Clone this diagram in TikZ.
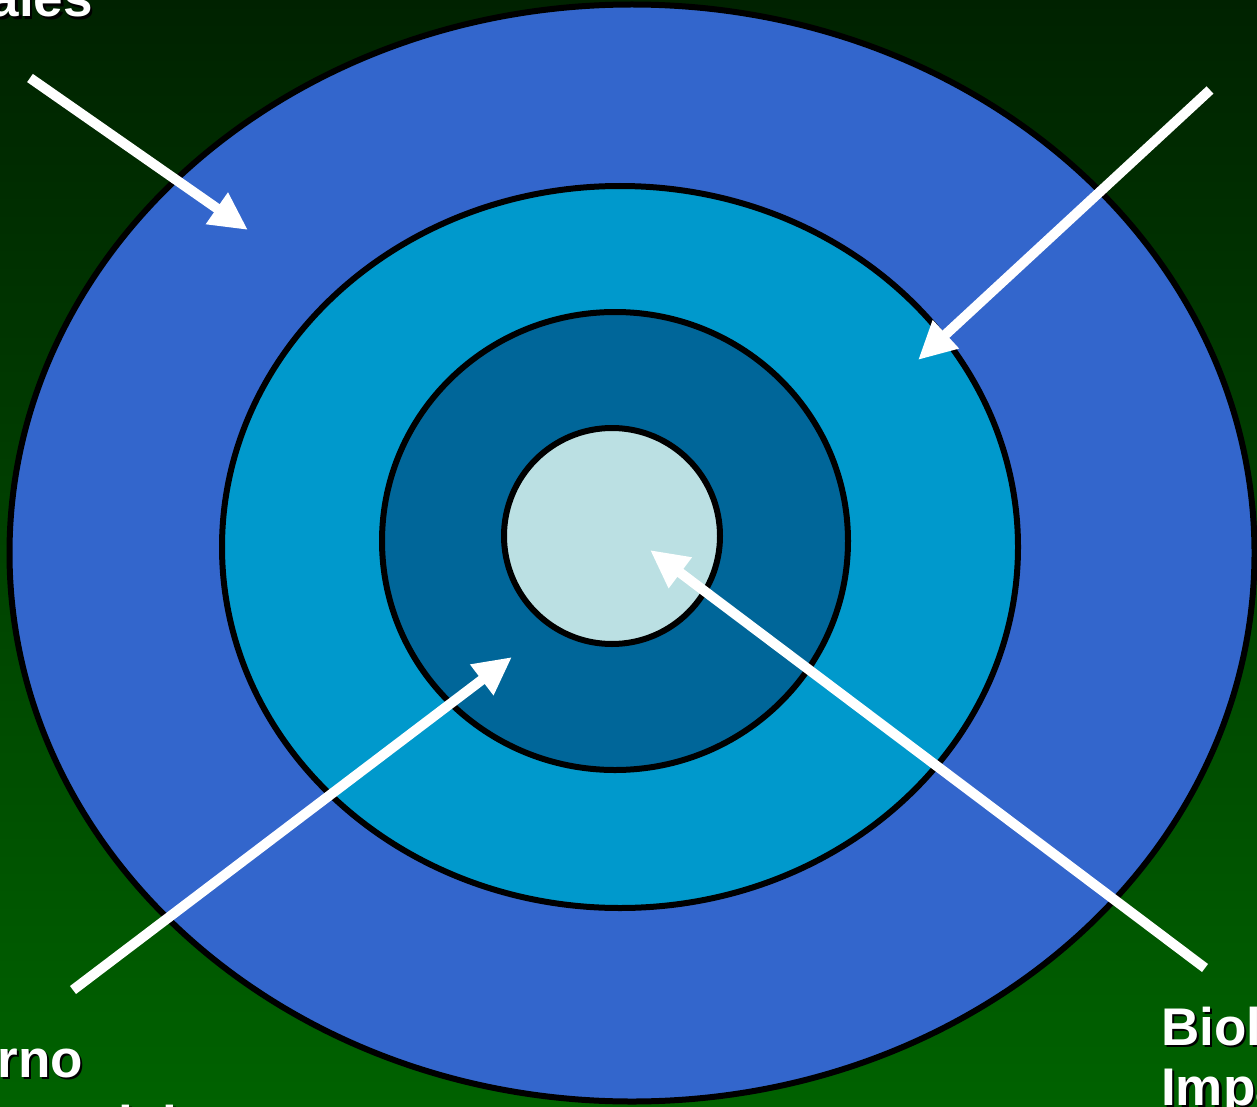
\documentclass[tikz,border=0pt]{standalone}
\usepackage{fontspec}
\setmainfont{Liberation Sans}
\usetikzlibrary{arrows.meta,shapes.geometric}
\definecolor{bgtop}{HTML}{002200}
\definecolor{bgbot}{HTML}{006200}
\definecolor{ringA}{HTML}{3366CC}
\definecolor{ringB}{HTML}{0099CC}
\definecolor{ringC}{HTML}{006699}
\definecolor{ringD}{HTML}{BBE0E3}

\begin{document}
\begin{tikzpicture}[x=1pt, y=-1pt,
  ring/.style={ellipse, draw=black, line width=6pt, inner sep=0pt},
  arr/.style={-{Triangle[length=38pt,width=36pt]}, draw=white, line width=10pt},
  lbl/.style={text=white, font=\bfseries\fontsize{53}{60}\selectfont, inner sep=0pt},
  lblsh/.style={lbl, text=black, xshift=2.5pt, yshift=-2.5pt}]
  \useasboundingbox (0,0) rectangle (1257,1107);
  \clip (0,0) rectangle (1257,1107);
  \shade[top color=bgtop, bottom color=bgbot] (0,0) rectangle (1257,1107);

  % rings, outer to inner
  \node[ring, fill=ringA, minimum width=1245pt, minimum height=1097pt] (outer) at (632,553) {};
  \node[ring, fill=ringB, minimum width=796pt, minimum height=722pt] (middle) at (620,547) {};
  \node[ring, fill=ringC, minimum width=466pt, minimum height=458pt] (inner) at (615,541) {};
  \node[ring, fill=ringD, minimum width=216pt, minimum height=216pt] (core) at (612,536) {};

  % labels (cut by the frame)
  \node[lblsh, anchor=base east] (socS) at (93,17) {Sociales};
  \node[lbl, anchor=base east] (soc) at (93,17) {Sociales};
  \node[lblsh, anchor=base east] (entS) at (83,1077) {Entorno};
  \node[lbl, anchor=base east] (ent) at (83,1077) {Entorno};
  \node[lblsh, anchor=base west] (ent2S) at (27,1143) {social};
  \node[lbl, anchor=base west] (ent2) at (27,1143) {social};
  \node[lblsh, anchor=base west] (bioS) at (1161,1045) {Biológico};
  \node[lbl, anchor=base west] (bio) at (1161,1045) {Biológico};
  \node[lblsh, anchor=base west] (impS) at (1161,1105) {Impacto};
  \node[lbl, anchor=base west] (imp) at (1161,1105) {Impacto};

  % arrow ends
  \coordinate (a1) at (30,78);   \coordinate (b1) at (248,230);
  \coordinate (a2) at (1210,90); \coordinate (b2) at (918,360);
  \coordinate (a3) at (73,990);  \coordinate (b3) at (512,657);
  \coordinate (a4) at (1205,968); \coordinate (b4) at (650,550);

  \draw[arr] (a1) -- (b1);
  \draw[arr] (a2) -- (b2);
  \draw[arr] (a3) -- (b3);
  \draw[arr] (a4) -- (b4);
\end{tikzpicture}
\end{document}
